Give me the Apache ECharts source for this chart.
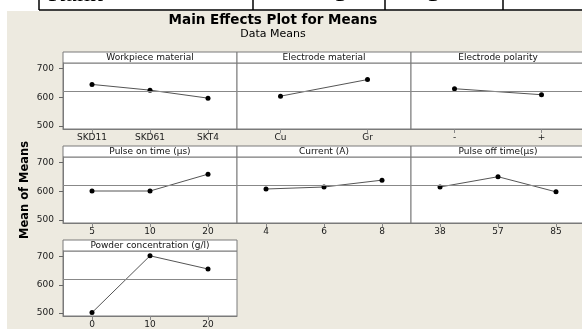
<!DOCTYPE html>
<html>
<head>
<meta charset="utf-8">
<script src="https://cdn.jsdelivr.net/npm/echarts@6/dist/echarts.min.js"></script>
<style>html,body{margin:0;padding:0;background:#fff;overflow:hidden}#c{width:590px;height:329px}</style>
</head>
<body>
<div id="c"></div>
<script>
// ---- data ----
const panelTitles = ['Workpiece material','Electrode material','Electrode polarity','Pulse on time (µs)','Current (A)','Pulse off time(µs)','Powder concentration (g/l)'];
const workpieceCats = ['SKD11','SKD61','SKT4'];
const workpieceVals = [645, 625, 597];
const electrodeCats = ['Cu','Gr'];
const electrodeVals = [604, 662];
const polarityCats = ['-','+'];
const polarityVals = [630, 609];
const pulseOnCats = ['5','10','20'];
const pulseOnVals = [601, 601, 660];
const currentCats = ['4','6','8'];
const currentVals = [608, 615, 639];
const pulseOffCats = ['38','57','85'];
const pulseOffVals = [615, 651, 598];
const powderCats = ['0','10','20'];
const powderVals = [501, 703, 656];
const grandMean = 621;
const yTicks = [500, 600, 700];
const yMin = 489, yMax = 720;
const tableTexts = ['Rank','5','3'];

const panelCats = [workpieceCats, electrodeCats, polarityCats, pulseOnCats, currentCats, pulseOffCats, powderCats];
const panelVals = [workpieceVals, electrodeVals, polarityVals, pulseOnVals, currentVals, pulseOffVals, powderVals];

// ---- layout ----
const lefts = [63, 237, 411];
const rowTops = [52, 146, 240];
const panelW = 174, stripH = 11, plotH = 66;
const W = 590;
const font = 'DejaVu Sans';
const border = '#7a7a7a';

const grids = [], xAxes = [], yAxes = [], series = [], graphics = [];

// white page margin + table fragment
graphics.push({type:'rect', shape:{x:0,y:0,width:W,height:11}, style:{fill:'#fff'}, z:0});
graphics.push({type:'rect', shape:{x:0,y:0,width:7,height:329}, style:{fill:'#fff'}, z:0});
graphics.push({type:'line', shape:{x1:39,y1:10,x2:W,y2:10}, style:{stroke:'#000',lineWidth:1.5}});
[39,253,385,503].forEach(x=>graphics.push({type:'line', shape:{x1:x,y1:0,x2:x,y2:10}, style:{stroke:'#000',lineWidth:1.5}}));
graphics.push({type:'text', x:48, y:7.5, style:{text:tableTexts[0], font:'26px "Liberation Serif"', fill:'#000', verticalAlign:'bottom'}});
graphics.push({type:'text', x:341, y:7.5, style:{text:tableTexts[1], font:'26px "Liberation Serif"', fill:'#000', align:'center', verticalAlign:'bottom'}});
graphics.push({type:'text', x:434, y:7.5, style:{text:tableTexts[2], font:'26px "Liberation Serif"', fill:'#000', align:'center', verticalAlign:'bottom'}});

// titles
graphics.push({type:'text', x:273, y:20, style:{text:'Main Effects Plot for Means', font:'bold 13.5px "DejaVu Sans"', fill:'#000', align:'center', verticalAlign:'middle'}});
graphics.push({type:'text', x:273, y:34.5, style:{text:'Data Means', font:'11px "DejaVu Sans"', fill:'#000', align:'center', verticalAlign:'middle'}});

panelTitles.forEach((t, i) => {
  const r = Math.floor(i / 3), c = i % 3;
  const left = lefts[c], top = rowTops[r];
  grids.push({left: left, top: top + stripH, width: panelW, height: plotH, show: true, backgroundColor: '#fff', borderColor: border, borderWidth: 1, containLabel: false});
  xAxes.push({
    type: 'category', gridIndex: i, data: panelCats[i], boundaryGap: true,
    axisLine: {show: true, lineStyle: {color: border}},
    axisTick: {show: true, alignWithLabel: true, length: 4, lineStyle: {color: '#888'}},
    axisLabel: {fontFamily: font, fontSize: 9, color: '#1a1a1a', margin: 4}
  });
  const isLeft = c === 0;
  yAxes.push({
    type: 'value', gridIndex: i, min: yMin, max: yMax,
    show: isLeft,
    axisLine: {show: true, lineStyle: {color: border}},
    axisTick: {show: true, length: 4, customValues: yTicks, lineStyle: {color: '#666'}},
    axisLabel: {fontFamily: font, fontSize: 9, color: '#1a1a1a', margin: 9, customValues: yTicks},
    splitLine: {show: false},
    name: i === 3 ? 'Mean of Means' : '',
    nameLocation: 'middle', nameRotate: 90, nameGap: 32,
    nameTextStyle: {fontFamily: font, fontSize: 11.5, fontWeight: 'bold', color: '#000'}
  });
  series.push({
    type: 'line', xAxisIndex: i, yAxisIndex: i, data: panelVals[i],
    symbol: 'circle', symbolSize: 5, itemStyle: {color: '#000'},
    lineStyle: {color: '#555', width: 1}, animation: false, silent: true,
    markLine: {silent: true, symbol: 'none', label: {show: false}, lineStyle: {color: '#888', width: 1, type: 'solid'}, data: [{yAxis: grandMean}]}
  });
  graphics.push({type:'rect', shape:{x:left, y:top, width:panelW, height:stripH}, style:{fill:'#fff', stroke:border, lineWidth:1}});
  graphics.push({type:'text', x:left + panelW/2, y:top + stripH/2 + 0.5, style:{text:t, font:'9px "DejaVu Sans"', fill:'#111', align:'center', verticalAlign:'middle'}});
});

const chart = echarts.init(document.getElementById('c'), null, {renderer: 'canvas'});
chart.setOption({
  backgroundColor: '#edeae0',
  animation: false,
  grid: grids, xAxis: xAxes, yAxis: yAxes, series: series,
  graphic: graphics
});
</script>
</body>
</html>
